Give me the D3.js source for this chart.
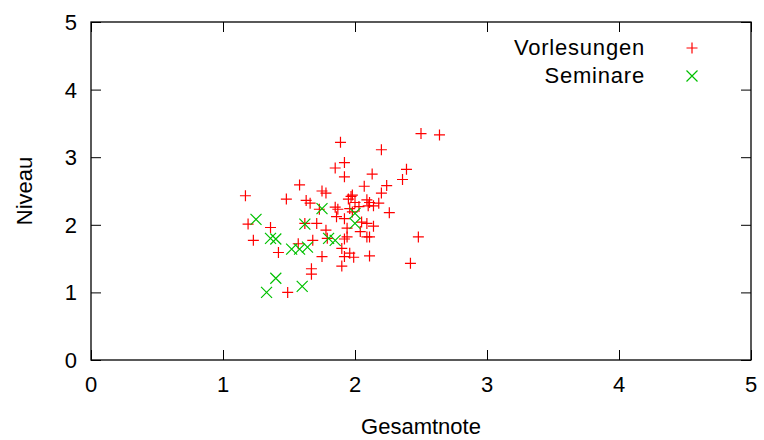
<!DOCTYPE html>
<html>
<head>
<meta charset="utf-8">
<style>
  body { margin: 0; background: #fff; }
  text { font-family: "Liberation Sans", Arial, sans-serif; fill: #000; }
</style>
</head>
<body>
<script src="https://cdn.jsdelivr.net/npm/d3@7/dist/d3.min.js"></script>
<script>
// Vorlesungen: [Gesamtnote, Niveau]
var vorlesungen = [
  [2.50,3.35],[2.64,3.33],[1.89,3.22],[2.20,3.11],[1.92,2.92],[1.85,2.84],
  [2.39,2.82],[2.13,2.75],[1.92,2.71],[2.36,2.67],[2.24,2.58],[2.07,2.57],
  [1.58,2.59],[1.17,2.43],[2.20,2.47],[1.75,2.50],[1.78,2.47],[1.97,2.42],
  [1.48,2.38],[1.63,2.36],[1.66,2.32],[1.95,2.38],[2.09,2.37],[2.11,2.33],
  [2.14,2.28],[2.10,2.28],[1.85,2.26],[1.87,2.23],[1.73,2.23],[2.26,2.18],
  [1.86,2.12],[1.92,2.09],[2.05,2.04],[2.09,2.02],[2.14,1.98],[1.19,2.01],
  [1.62,2.02],[1.71,2.02],[1.36,1.96],[1.78,1.92],[1.94,1.95],[2.04,1.90],
  [2.09,1.82],[2.11,1.82],[2.48,1.82],[1.94,1.82],[1.92,1.79],[1.79,1.80],
  [1.68,1.77],[1.23,1.77],[1.57,1.72],[1.90,1.65],[1.96,1.58],[1.99,1.52],
  [1.92,1.53],[2.11,1.54],[1.75,1.53],[1.42,1.59],[1.90,1.39],[2.42,1.43],
  [1.67,1.35],[1.67,1.27],[1.49,1.00],[1.98,2.44],[2.00,2.33],[1.96,2.24],
  [1.98,2.19],[2.18,2.32],[2.03,2.27]
];
// Seminare: [Gesamtnote, Niveau]
var seminare = [
  [1.25,2.08],[1.62,2.01],[1.36,1.80],[1.40,1.79],[1.52,1.64],[1.58,1.64],
  [1.64,1.67],[1.40,1.21],[1.60,1.09],[1.33,1.00],[1.75,2.24],[2.00,2.17],
  [2.00,2.02],[1.80,1.80],[1.85,1.77]
];
var xTicks = [0, 1, 2, 3, 4, 5];
var yTicks = [0, 1, 2, 3, 4, 5];
var seriesNames = ["Vorlesungen", "Seminare"];

var W = 764, H = 440;
var mLeft = 91, mRight = 751, mTop = 22, mBottom = 360;
var fs = 22;

var svg = d3.select("body").append("svg").attr("width", W).attr("height", H);

var x = d3.scaleLinear().domain([0, 5]).range([mLeft, mRight]);
var y = d3.scaleLinear().domain([0, 5]).range([mBottom, mTop]);

// ticks (gnuplot style, inward, mirrored)
var tl = 10;
function noDomain(g){ g.select(".domain").remove(); }
svg.append("g").attr("transform", "translate(0," + mBottom + ")")
  .call(d3.axisBottom(x).tickValues(xTicks).tickSize(-tl).tickFormat("")).call(noDomain);
svg.append("g").attr("transform", "translate(0," + mTop + ")")
  .call(d3.axisTop(x).tickValues(xTicks).tickSize(-tl).tickFormat("")).call(noDomain);
svg.append("g").attr("transform", "translate(" + mLeft + ",0)")
  .call(d3.axisLeft(y).tickValues(yTicks).tickSize(-tl).tickFormat("")).call(noDomain);
svg.append("g").attr("transform", "translate(" + mRight + ",0)")
  .call(d3.axisRight(y).tickValues(yTicks).tickSize(-tl).tickFormat("")).call(noDomain);
svg.selectAll(".tick line").attr("stroke", "#000").attr("stroke-width", 1);

// tick labels
svg.selectAll(".xl").data(xTicks).enter().append("text")
  .attr("x", function(d){ return x(d); }).attr("y", mBottom + 32)
  .attr("text-anchor", "middle").style("font-size", fs + "px")
  .text(function(d){ return d; });
svg.selectAll(".yl").data(yTicks).enter().append("text")
  .attr("x", mLeft - 14).attr("y", function(d){ return y(d) + 8; })
  .attr("text-anchor", "end").style("font-size", fs + "px")
  .text(function(d){ return d; });

// frame
svg.append("rect").attr("x", mLeft).attr("y", mTop)
  .attr("width", mRight - mLeft).attr("height", mBottom - mTop)
  .attr("fill", "none").attr("stroke", "#000").attr("stroke-width", 1.3);

// axis titles
svg.append("text").attr("x", (mLeft + mRight) / 2).attr("y", 434)
  .attr("text-anchor", "middle").style("font-size", fs + "px").text("Gesamtnote");
svg.append("text").attr("transform", "translate(32,191) rotate(-90)")
  .attr("text-anchor", "middle").style("font-size", fs + "px").text("Niveau");

var s = 5.5;
function plus(g, cx, cy, col) {
  g.append("path").attr("d", "M" + (cx - s) + "," + cy + "H" + (cx + s) + "M" + cx + "," + (cy - s) + "V" + (cy + s))
    .attr("stroke", col).attr("stroke-width", 1.2).attr("fill", "none");
}
function cross(g, cx, cy, col) {
  g.append("path").attr("d", "M" + (cx - s) + "," + (cy - s) + "L" + (cx + s) + "," + (cy + s) + "M" + (cx - s) + "," + (cy + s) + "L" + (cx + s) + "," + (cy - s))
    .attr("stroke", col).attr("stroke-width", 1.2).attr("fill", "none");
}

var red = "#ff0000", green = "#00c000";
var gp = svg.append("g");
vorlesungen.forEach(function(d){ plus(gp, x(d[0]), y(d[1]), red); });
var gs = svg.append("g");
seminare.forEach(function(d){ cross(gs, x(d[0]), y(d[1]), green); });

// legend
svg.append("text").attr("x", 645).attr("y", 55).attr("text-anchor", "end")
  .style("font-size", fs + "px").style("letter-spacing", "0.8px").text(seriesNames[0]);
plus(svg, 692, 48, red);
svg.append("text").attr("x", 645).attr("y", 83).attr("text-anchor", "end")
  .style("font-size", fs + "px").style("letter-spacing", "0.8px").text(seriesNames[1]);
cross(svg, 692, 76, green);
</script>
</body>
</html>
